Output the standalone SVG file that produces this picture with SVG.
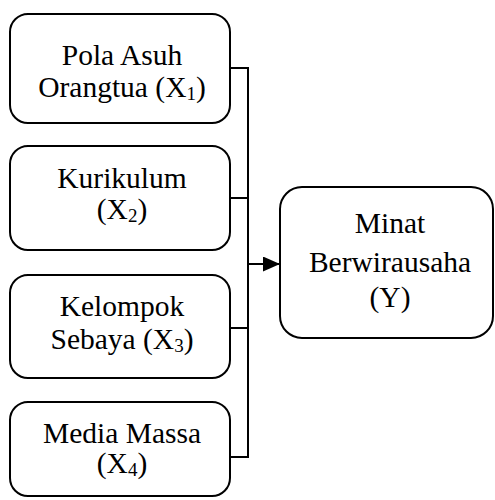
<svg xmlns="http://www.w3.org/2000/svg" width="495" height="500" viewBox="0 0 495 500">
<style>
.box{fill:#fff;stroke:#000;stroke-width:2}
.c{stroke:#000;stroke-width:2;fill:none}
</style>
<defs>
<marker id="ah" markerWidth="17" markerHeight="15" refX="17" refY="7.5" orient="auto" markerUnits="userSpaceOnUse">
<path d="M0,0 L17,7.5 L0,15 Z" fill="#000"/>
</marker>
</defs>
<g id="connectors">
<path class="c" d="M230,68 H248 M230,198 H248 M230,328 H248 M230,457 H248 M248,67 V458"/>
<path class="c" d="M248,264 H280" marker-end="url(#ah)"/>
</g>
<g font-family="Liberation Serif" font-size="29.5" text-anchor="middle" fill="#000">
<g id="x1">
<rect class="box" x="10" y="14" width="220" height="109" rx="18"/>
<text x="122" y="65">Pola Asuh</text>
<text x="122" y="97">Orangtua (X<tspan font-size="19" dy="3">1</tspan><tspan dy="-3">)</tspan></text>
</g>
<g id="x2">
<rect class="box" x="10" y="146" width="220" height="104" rx="18"/>
<text x="122" y="188">Kurikulum</text>
<text x="122" y="219">(X<tspan font-size="19" dy="3">2</tspan><tspan dy="-3">)</tspan></text>
</g>
<g id="x3">
<rect class="box" x="10" y="275" width="220" height="103" rx="18"/>
<text x="122" y="316">Kelompok</text>
<text x="122" y="349">Sebaya (X<tspan font-size="19" dy="3">3</tspan><tspan dy="-3">)</tspan></text>
</g>
<g id="x4">
<rect class="box" x="10" y="402" width="220" height="94" rx="18"/>
<text x="122" y="443">Media Massa</text>
<text x="122" y="473">(X<tspan font-size="19" dy="3">4</tspan><tspan dy="-3">)</tspan></text>
</g>
<g id="y">
<rect class="box" x="280" y="187" width="213" height="151" rx="22"/>
<text x="390" y="233">Minat</text>
<text x="390" y="272">Berwirausaha</text>
<text x="390" y="307">(Y)</text>
</g>
</g>
</svg>
